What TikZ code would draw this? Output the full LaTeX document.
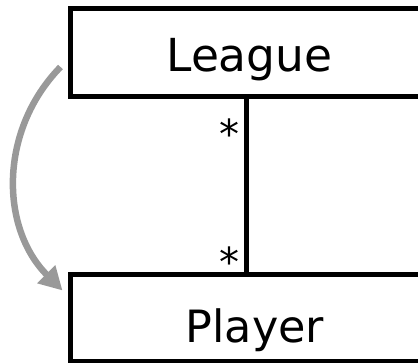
\documentclass[tikz,border=0pt]{standalone}
\usepackage{fontspec}
\setmainfont{DejaVu Sans}
\usetikzlibrary{arrows.meta}
\definecolor{arrowgray}{RGB}{153,153,153}
\begin{document}
\begin{tikzpicture}[x=1pt,y=-1pt,
  classbox/.style={draw=black, line width=5pt, inner sep=0pt, rectangle},
  assoc/.style={draw=black, line width=4.5pt},
  starlbl/.style={inner sep=0pt, anchor=base east, font=\fontsize{40}{42}\selectfont},
  garrow/.style={draw=arrowgray, line width=6.5pt, -{Triangle[length=23pt,width=24pt]}}]
\path[use as bounding box, clip] (0,0) rectangle (418,363);
\node[classbox, minimum width=358pt, minimum height=88.5pt,
      text height=38.5pt, text depth=0pt, font=\fontsize{45.5}{50}\selectfont]
      (league) at (249.5,52.75) {League};
\node[classbox, minimum width=368.4pt, minimum height=87pt,
      text height=50pt, text depth=0pt, font=\fontsize{44.5}{50}\selectfont]
      (player) at (255,318) {Player};
\draw[assoc] ([xshift=-3pt]league.south) -- ([xshift=-3pt]league.south |- player.north)
  node[starlbl, pos=0.283, xshift=-4.5pt] (s1) {*}
  node[starlbl, pos=1.028, xshift=-4.5pt] (s2) {*};
\draw[garrow] ([xshift=-7.5pt,yshift=-14.25pt]league.west)
  .. controls +(-61.7,63.3) and +(-62.5,-62.5) ..
  ([xshift=-5.8pt,yshift=-18.5pt]player.north west);
\end{tikzpicture}
\end{document}
